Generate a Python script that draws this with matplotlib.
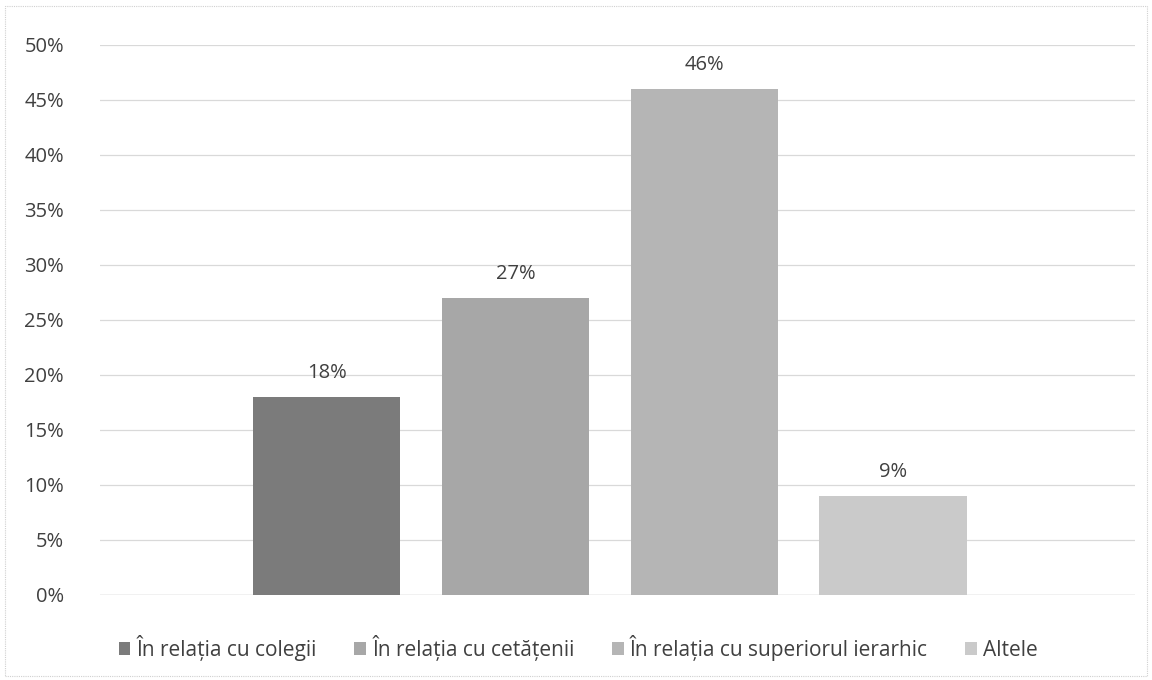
import matplotlib
matplotlib.use("Agg")
import matplotlib.pyplot as plt
from matplotlib.patches import Rectangle

plt.rcParams['font.family'] = ['Open Sans', 'DejaVu Sans']

# data
categories = ["În relația cu colegii", "În relația cu cetățenii",
              "În relația cu superiorul ierarhic", "Altele"]
values = [18, 27, 46, 9]
colors = ["#7b7b7b", "#a7a7a7", "#b5b5b5", "#cacaca"]
yticks = [0, 5, 10, 15, 20, 25, 30, 35, 40, 45, 50]

text_col = "#404040"
fs = 14.5

fig = plt.figure(figsize=(11.52, 6.8), dpi=100)
ax = fig.add_axes([0.087, 0.125, 0.898, 0.809])

x = list(range(len(categories)))
bars = ax.bar(x, values, width=0.78, color=colors, label=categories, zorder=3)

for xi, v in zip(x, values):
    ax.text(xi, v + 1.3, f"{v}%", ha="center", va="bottom",
            fontsize=fs, color=text_col)

ax.set_xlim(-1.2, 4.28)
ax.set_ylim(0, 50)
ax.set_yticks(yticks)
ax.set_yticklabels([f"{t}%" for t in yticks], fontsize=fs, color=text_col)
ax.set_xticks([])
ax.tick_params(axis="y", length=0, pad=26)
ax.grid(axis="y", color="#d9d9d9", linewidth=0.9, zorder=0)
for s in ax.spines.values():
    s.set_visible(False)
ax.axhline(0, color="#d0d0d0", linewidth=1, zorder=2)

leg = fig.legend(handles=bars, labels=categories, loc="center",
                 bbox_to_anchor=(0.502, 0.047), ncol=4, frameon=False,
                 fontsize=15, handlelength=0.55, handleheight=0.55,
                 handletextpad=0.3, columnspacing=1.8)
for t in leg.get_texts():
    t.set_color(text_col)

# faint border around the chart
fig.patches.append(Rectangle((0.004, 0.006), 0.992, 0.985, transform=fig.transFigure,
                             fill=False, edgecolor="#d0d0d0", linewidth=0.8,
                             linestyle=(0, (1, 1))))

fig.savefig("out.png", dpi=100, facecolor="white")
